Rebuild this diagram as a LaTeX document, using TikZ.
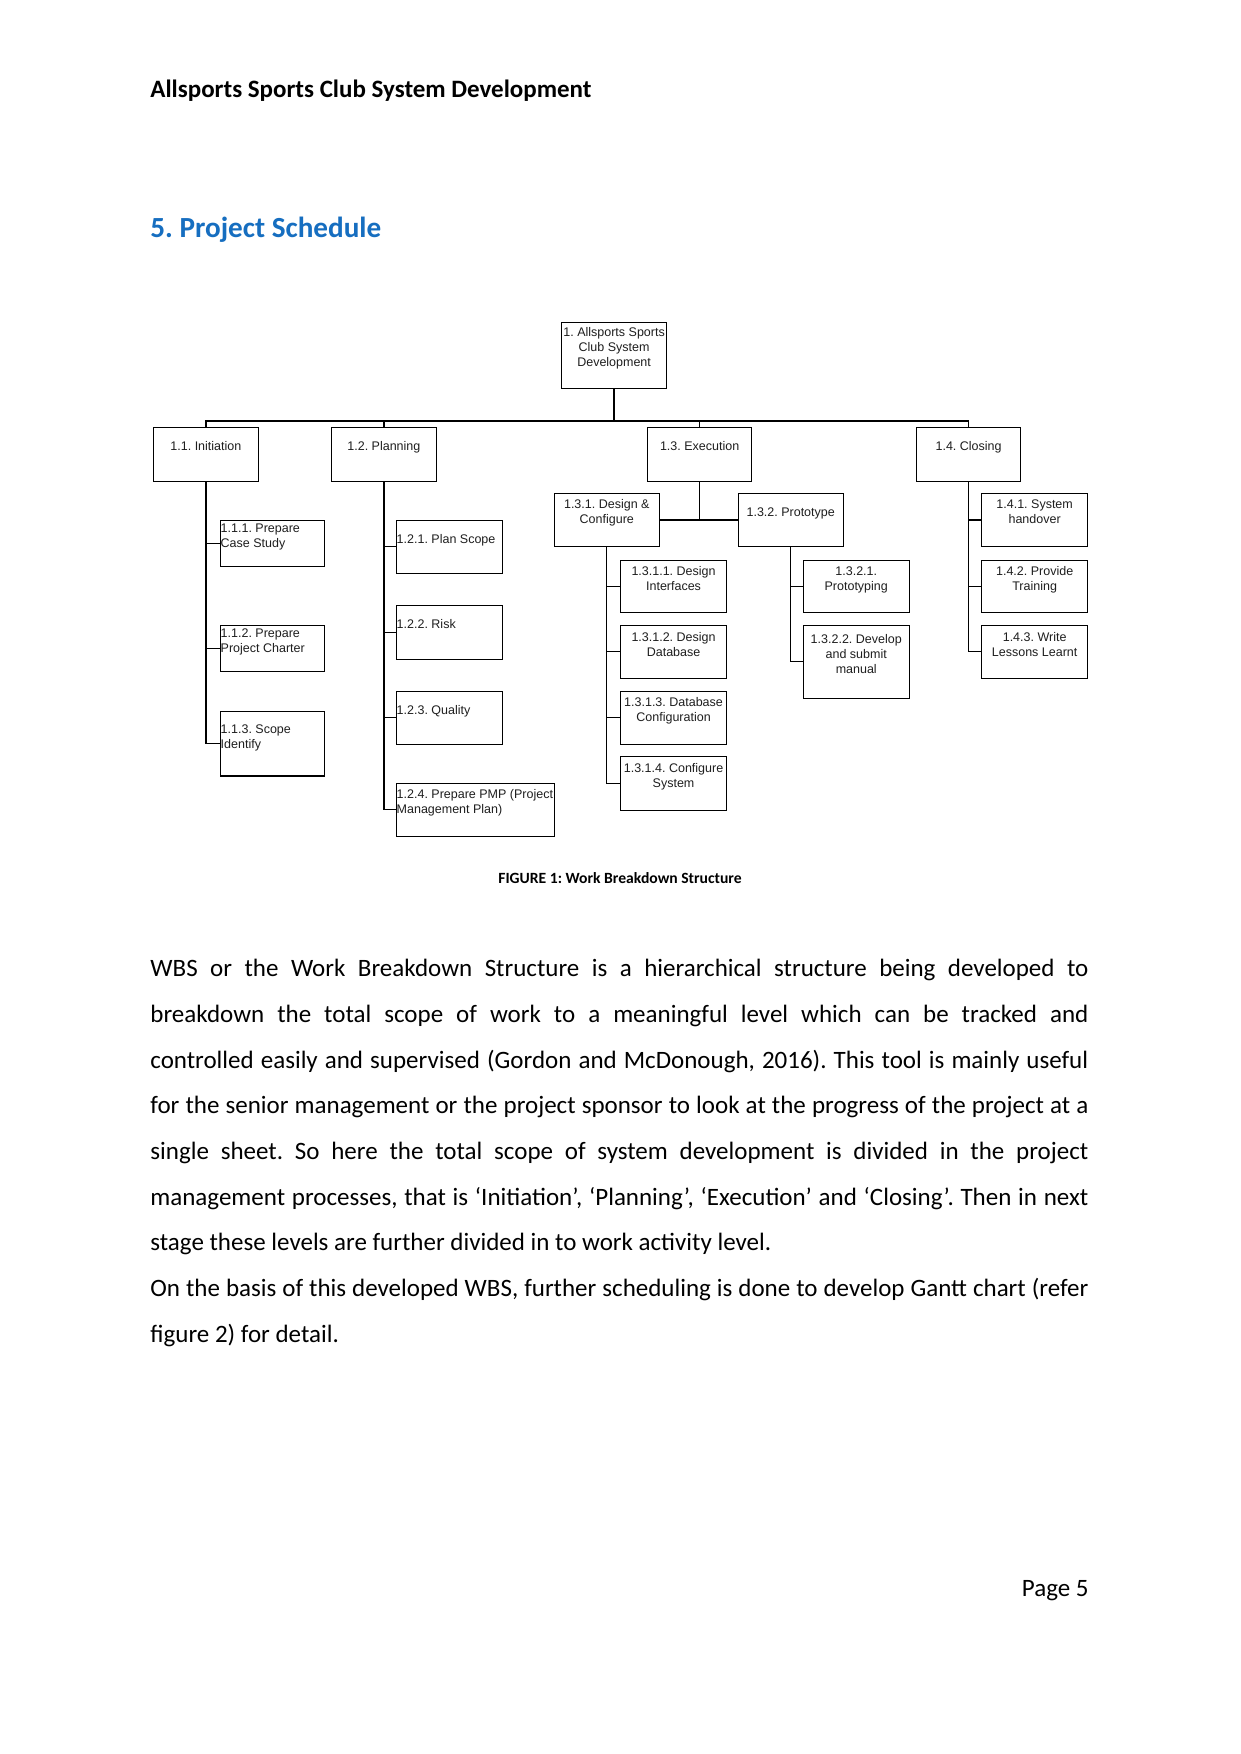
\documentclass[tikz,border=0pt]{standalone}
\usepackage{fontspec}
\setmainfont{Carlito}
\newfontfamily\arialf{Liberation Sans}
\definecolor{headblue}{RGB}{22,110,192}
\frenchspacing
\newcommand\wbsbox[5]{%
  \node[wb, minimum width={(#4-#2)*0.48pt}, minimum height={(#5-#3)*0.48pt}] (#1) at ({(#2+#4)/2},{-(#3+#5)/2}) {};}
\newcommand\cbox[7]{%
  \wbsbox{#1}{#2}{#3}{#4}{#5}%
  \node[wt, align=center, anchor=north] (#1-t) at ({(#2+#4)/2},{-(#6-4.5)}) {#7};}
\newcommand\lbox[7]{%
  \wbsbox{#1}{#2}{#3}{#4}{#5}%
  \node[wt, align=left, anchor=north west] (#1-t) at (#2,{-(#6-4.5)}) {#7};}
\newcommand\bline[3]{%
  \node[body, anchor=base west] (#1) at (150,{-#2}) {#3};}
\newcommand\jline[3]{%
  \node[body, anchor=base west] (#1) at (150,{-#2}) {\makebox[450.2pt][s]{#3}};}
\begin{document}
\begin{tikzpicture}[x=0.48pt,y=0.48pt,
  wb/.style={draw=black, line width=0.65pt, rectangle, inner sep=0pt, outer sep=0pt},
  wt/.style={inner sep=0pt, font=\arialf\fontsize{6}{7.2}\selectfont, text=black!88},
  conn/.style={draw=black, line width=0.65pt},
  body/.style={inner sep=0pt, font=\fontsize{12}{14}\selectfont}]
\useasboundingbox (0,0) rectangle (1241,-1754);
\fill[white] (0,0) rectangle (1241,-1754);

% header and heading
\node[anchor=base west, inner sep=0pt, font=\bfseries\fontsize{12}{14}\selectfont] (hdr) at (150,-97.7) {Allsports Sports Club System Development};
\node[anchor=base west, inner sep=0pt, text=headblue, font=\bfseries\fontsize{14}{17}\selectfont] (sec) at (150,-237.7) {5. Project Schedule};

% WBS boxes
\cbox{root}{561.4}{322.3}{666.8}{388.3}{331.7}{1. Allsports Sports\\Club System\\Development}
\cbox{init}{153.2}{427.3}{258.6}{481.7}{445.7}{1.1. Initiation}
\cbox{plan}{331.4}{427.3}{436.4}{481.7}{445.7}{1.2. Planning}
\cbox{exec}{647.5}{427.3}{751.8}{481.7}{445.7}{1.3. Execution}
\cbox{clos}{916.8}{427.3}{1020.4}{481.7}{445.7}{1.4. Closing}

\lbox{b111}{220.3}{520.3}{324.3}{566.3}{527.7}{1.1.1. Prepare\\Case Study}
\lbox{b112}{220.3}{625.3}{324.3}{671.3}{632.7}{1.1.2. Prepare\\Project Charter}
\lbox{b113}{220.3}{711.3}{324.3}{776.0}{728.7}{1.1.3. Scope\\Identify}

\lbox{b121}{396.3}{520.3}{502.3}{573.3}{538.7}{1.2.1. Plan Scope}
\lbox{b122}{396.3}{605.3}{502.3}{659.3}{623.3}{1.2.2. Risk}
\lbox{b123}{396.3}{691.3}{502.3}{744.3}{709.7}{1.2.3. Quality}
\lbox{b124}{396.3}{783.3}{554.3}{836.3}{793.7}{1.2.4. Prepare PMP (Project\\Management Plan)}

\cbox{b131}{554.3}{493.3}{659.3}{546.7}{504.0}{1.3.1. Design \&\\Configure}
\cbox{b132}{738.2}{493.3}{843.2}{546.7}{512.0}{1.3.2. Prototype}
\cbox{b1311}{620.7}{560.3}{726.4}{612.3}{570.7}{1.3.1.1. Design\\Interfaces}
\cbox{b1312}{620.7}{625.3}{726.4}{678.3}{636.7}{1.3.1.2. Design\\Database}
\cbox{b1313}{620.7}{691.3}{726.4}{744.3}{701.3}{1.3.1.3. Database\\Configuration}
\cbox{b1314}{620.7}{756.3}{726.4}{810.3}{767.3}{1.3.1.4. Configure\\System}
\cbox{b1321}{803.2}{560.3}{909.3}{612.3}{570.7}{1.3.2.1.\\Prototyping}
\cbox{b1322}{803.2}{625.3}{909.3}{698.3}{638.7}{1.3.2.2. Develop\\and submit\\manual}

\cbox{b141}{981.8}{493.3}{1087.5}{546.7}{504.0}{1.4.1. System\\handover}
\cbox{b142}{981.8}{560.3}{1087.5}{612.3}{570.7}{1.4.2. Provide\\Training}
\cbox{b143}{981.8}{625.3}{1087.5}{678.3}{636.7}{1.4.3. Write\\Lessons Learnt}

% connectors
\coordinate (bus) at (0,-421);
\draw[conn] (root.south) -- (root.south |- bus);
\draw[conn] (init.north) -- (init.north |- bus) -- (clos.north |- bus) -- (clos.north);
\draw[conn] (plan.north) -- (plan.north |- bus);
\draw[conn] (exec.north) -- (exec.north |- bus);

\draw[conn] (init.south) |- (b111.west);
\draw[conn] (init.south) |- (b112.west);
\draw[conn] (init.south) |- (b113.west);

\draw[conn] (plan.south) |- (b121.west);
\draw[conn] (plan.south) |- (b122.west);
\draw[conn] (plan.south) |- (b123.west);
\draw[conn] (plan.south) |- (b124.west);

\draw[conn] (b131.east) -- (b132.west);
\draw[conn] (exec.south) -- (exec.south |- b131.east);

\draw[conn] (b131.south) |- (b1311.west);
\draw[conn] (b131.south) |- (b1312.west);
\draw[conn] (b131.south) |- (b1313.west);
\draw[conn] (b131.south) |- (b1314.west);

\draw[conn] (b132.south) |- (b1321.west);
\draw[conn] (b132.south) |- (b1322.west);

\draw[conn] (clos.south) |- (b141.west);
\draw[conn] (clos.south) |- (b142.west);
\draw[conn] (clos.south) |- (b143.west);

% caption
\node[anchor=base, inner sep=0pt, font=\bfseries\fontsize{7.5}{9}\selectfont] (cap) at (620,-883.3) {FIGURE 1: Work Breakdown Structure};

% body text
\jline{l1}{976.7}{WBS or the Work Breakdown Structure is a hierarchical structure being developed to}
\jline{l2}{1022.4}{breakdown the total scope of work to a meaningful level which can be tracked and}
\jline{l3}{1068.1}{controlled easily and supervised (Gordon and McDonough, 2016). This tool is mainly useful}
\jline{l4}{1113.8}{for the senior management or the project sponsor to look at the progress of the project at a}
\jline{l5}{1159.5}{single sheet. So here the total scope of system development is divided in the project}
\jline{l6}{1205.2}{management processes, that is ‘Initiation’, ‘Planning’, ‘Execution’ and ‘Closing’. Then in next}
\bline{l7}{1250.9}{stage these levels are further divided in to work activity level.}
\jline{l8}{1296.6}{On the basis of this developed WBS, further scheduling is done to develop Gantt chart (refer}
\bline{l9}{1342.3}{figure 2) for detail.}

% page number
\node[anchor=base east, inner sep=0pt, font=\fontsize{12}{14}\selectfont] (pg) at (1089,-1596) {Page 5};
\end{tikzpicture}
\end{document}
